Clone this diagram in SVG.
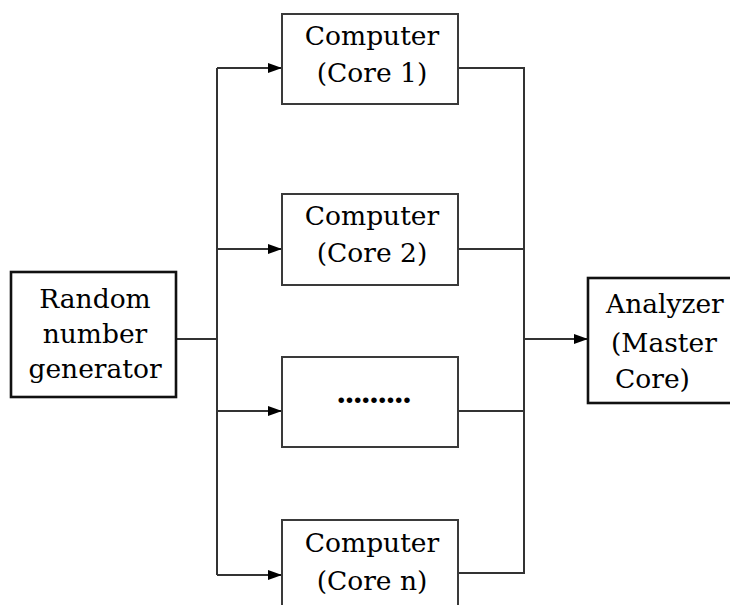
<svg xmlns="http://www.w3.org/2000/svg" width="730" height="605" viewBox="0 0 730 605">
  <style>
    .box { fill: #fff; stroke: #3a3a3a; stroke-width: 2; }
    .endbox { fill: #fff; stroke: #111; stroke-width: 2.6; }
    .wire { fill: none; stroke: #333; stroke-width: 2; }
    text { font-family: "DejaVu Serif", "Liberation Serif", serif; font-size: 26.5px; fill: #000; }
    .c { text-anchor: middle; }
  </style>
  <defs>
    <marker id="arrow" markerWidth="14" markerHeight="12" refX="14" refY="6" orient="auto" markerUnits="userSpaceOnUse">
      <path d="M0,1 L14,6 L0,11 Z" fill="#000"/>
    </marker>
  </defs>
  <rect width="730" height="605" fill="#fff"/>

  <g id="connectors">
    <!-- generator to fan-out bus -->
    <path class="wire" d="M176,339 H217"/>
    <path class="wire" d="M217,68 V575"/>
    <path class="wire" d="M217,68 H282" marker-end="url(#arrow)"/>
    <path class="wire" d="M217,249 H282" marker-end="url(#arrow)"/>
    <path class="wire" d="M217,411 H282" marker-end="url(#arrow)"/>
    <path class="wire" d="M217,575 H282" marker-end="url(#arrow)"/>
    <!-- cores to collector bus -->
    <path class="wire" d="M458,68 H524 V573 H458"/>
    <path class="wire" d="M458,249 H524"/>
    <path class="wire" d="M458,411 H524"/>
    <path class="wire" d="M524,339 H588" marker-end="url(#arrow)"/>
  </g>

  <g id="rng">
    <rect class="endbox" x="11" y="272" width="165" height="125"/>
    <text class="c" x="95" y="308">Random</text>
    <text class="c" x="95" y="343">number</text>
    <text class="c" x="95" y="378">generator</text>
  </g>

  <g id="core1">
    <rect class="box" x="282" y="14" width="176" height="90"/>
    <text class="c" x="372" y="45">Computer</text>
    <text class="c" x="372" y="82">(Core 1)</text>
  </g>

  <g id="core2">
    <rect class="box" x="282" y="194" width="176" height="91"/>
    <text class="c" x="372" y="225">Computer</text>
    <text class="c" x="372" y="262">(Core 2)</text>
  </g>

  <g id="core-more">
    <rect class="box" x="282" y="357" width="176" height="90"/>
    <text class="c" x="373" y="403" style="font-size:30px;font-weight:bold" letter-spacing="-2.2">.........</text>
  </g>

  <g id="coren">
    <rect class="box" x="282" y="520" width="176" height="100"/>
    <text class="c" x="372" y="552">Computer</text>
    <text class="c" x="372" y="590">(Core n)</text>
  </g>

  <g id="analyzer">
    <rect class="endbox" x="588" y="278" width="150" height="125"/>
    <text x="606" y="313">Analyzer</text>
    <text x="611" y="352">(Master</text>
    <text x="615" y="388">Core)</text>
  </g>
</svg>
